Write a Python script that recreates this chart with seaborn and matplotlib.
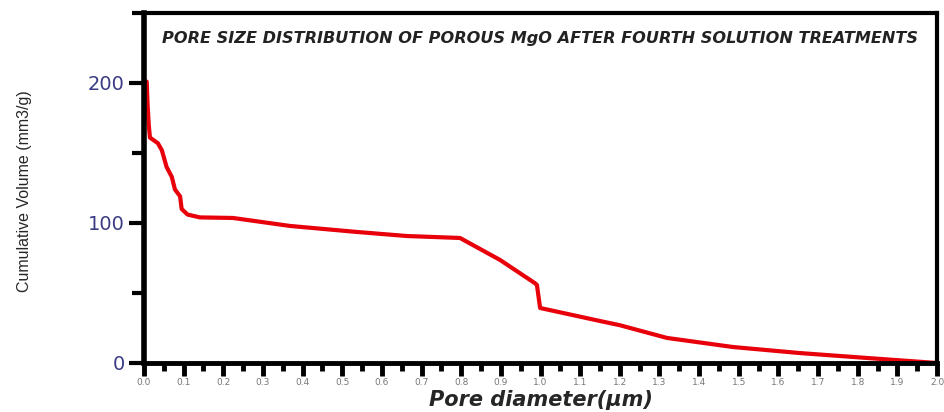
import matplotlib
matplotlib.use("Agg")
import matplotlib.pyplot as plt
from matplotlib import font_manager
from matplotlib.ticker import MultipleLocator
import pandas as pd
import seaborn as sns

# Cumulative intrusion curve
pore_diameter_um = [0.0068, 0.009, 0.012, 0.015, 0.035, 0.045, 0.057, 0.070, 0.078,
                    0.091, 0.095, 0.110, 0.141, 0.224, 0.242, 0.368, 0.537,
                    0.663, 0.797, 0.898, 0.986, 0.991, 0.999, 1.150, 1.200, 1.319,
                    1.486, 1.654, 1.823, 2.0]
cumulative_volume = [201, 185, 170, 161, 157, 152, 140, 133, 124,
                     119, 110, 106, 104, 103.6, 102.9, 97.9, 93.6,
                     90.7, 89.3, 73.6, 57, 55.7, 39.3, 30, 27, 17.9,
                     11.4, 7.1, 3.6, 0]

x_ticks = [round(0.1 * i, 1) for i in range(21)]
y_ticks = [0, 100, 200]

title_text = "PORE SIZE DISTRIBUTION OF POROUS MgO AFTER FOURTH SOLUTION TREATMENTS"

sns.set_style("white")
plt.rcParams["font.family"] = ["DejaVu Sans"]


def has_font(name):
    try:
        font_manager.findfont(name, fallback_to_default=False)
        return True
    except Exception:
        return False


narrow = has_font("Liberation Sans Narrow")
ylabel_family = "Liberation Sans Narrow" if narrow else "Liberation Sans"
ylabel_size = 14 if narrow else 11.5

df = pd.DataFrame({"d": pore_diameter_um, "v": cumulative_volume})

fig = plt.figure(figsize=(9.44, 4.12), dpi=100)
ax = fig.add_axes([144 / 944, 49 / 412, (937 - 144) / 944, (363 - 13) / 412])

sns.lineplot(data=df, x="d", y="v", ax=ax, sort=False, estimator=None,
             color="#e8000b", linewidth=3.0, solid_joinstyle="round")

ax.set_xlim(0, 2.0)
ax.set_ylim(0, 250)

for side, sp in ax.spines.items():
    sp.set_visible(True)
    sp.set_color("black")
    sp.set_linewidth(3.0)
ax.spines["left"].set_linewidth(4.0)
ax.spines["bottom"].set_linewidth(3.5)

ax.set_xticks(x_ticks)
ax.set_xticklabels([f"{t:.1f}" for t in x_ticks])
ax.xaxis.set_minor_locator(MultipleLocator(0.05))
ax.set_yticks(y_ticks)
ax.yaxis.set_minor_locator(MultipleLocator(50))

ax.tick_params(axis="x", which="major", direction="out", length=9, width=3.5,
               color="black", labelsize=6.5, labelcolor="#777777", pad=1.5,
               bottom=True)
ax.tick_params(axis="x", which="minor", direction="out", length=6, width=3.5,
               color="black", bottom=True)
ax.tick_params(axis="y", which="major", direction="out", length=11, width=3,
               color="black", labelsize=14, labelcolor="#3b3b85", pad=3,
               left=True)
ax.tick_params(axis="y", which="minor", direction="out", length=9, width=3,
               color="black", left=True)

ax.set_xlabel("Pore diameter(\u03bcm)", fontsize=15, fontweight="bold",
              fontstyle="italic")
ax.xaxis.set_label_coords(0.5, -0.078)
ax.set_ylabel("Cumulative Volume (mm3/g)", fontsize=ylabel_size,
              family=[ylabel_family, "DejaVu Sans"])
ax.yaxis.set_label_coords(-0.141, 0.49)

ax.text(0.5, 0.927, title_text, transform=ax.transAxes, ha="center", va="center",
        fontsize=11.6, fontweight="bold", fontstyle="italic", color="#222222")

fig.savefig("out.png", dpi=100, facecolor="white")
